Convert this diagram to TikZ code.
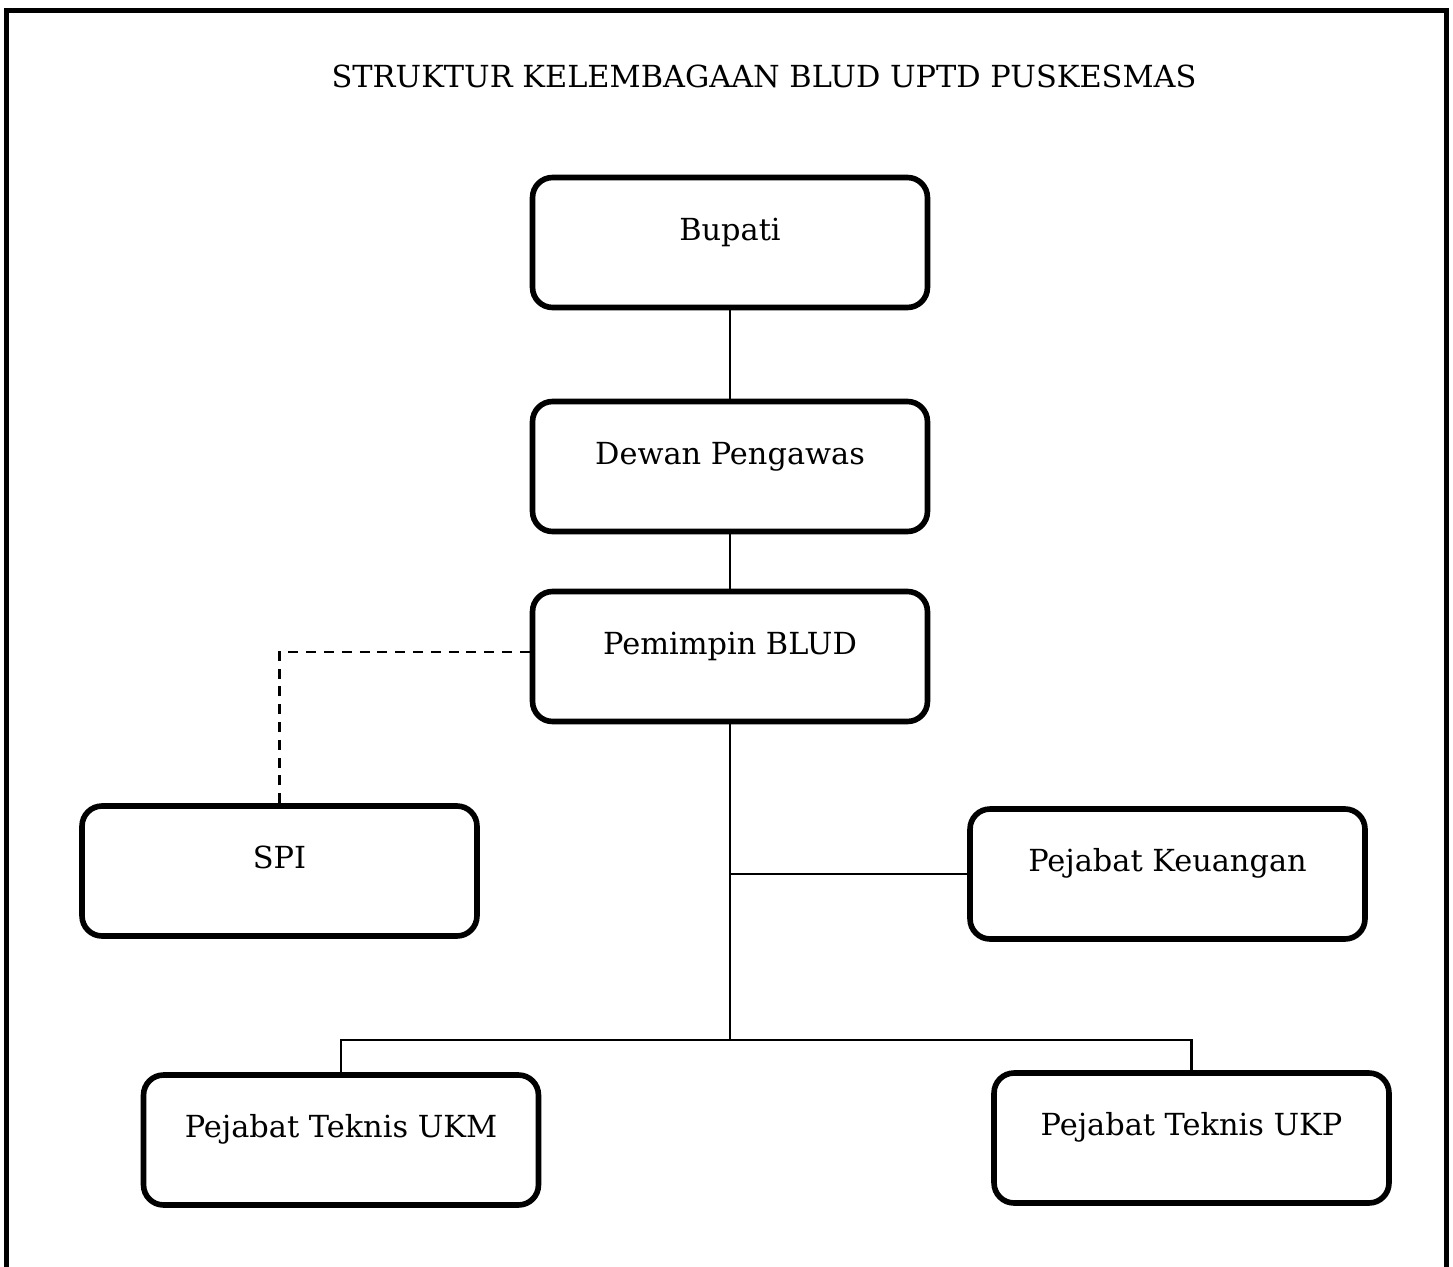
\documentclass[tikz,border=0pt]{standalone}
\usepackage{fontspec}
\setmainfont{DejaVu Serif}
\usetikzlibrary{positioning}

\begin{document}
\begin{tikzpicture}[x=0.02cm, y=-0.02cm,
  every node/.style={font=\fontsize{17.3}{20}\selectfont},
  box/.style={draw, rounded corners=0.4cm, line width=3.2pt, minimum width=7.9cm, minimum height=2.6cm,
    text height=0.45cm, text depth=0.55cm, inner sep=0pt},
  link/.style={line width=1.3pt}]
\useasboundingbox (0,0) rectangle (1453,1267);
% outer frame, open at the bottom
\draw[line width=3.2pt] (6.5,1267) -- (6.5,10.5) -- (1446.5,10.5) -- (1446.5,1267);

\node (title) at (764,76) {STRUKTUR KELEMBAGAAN BLUD UPTD PUSKESMAS};

% boxes
\node[box] (bupati) at (730,242.5) {Bupati};
\node[box] (dewan) at (730,466.5) {Dewan Pengawas};
\node[box] (pemimpin) at (730,656.5) {Pemimpin BLUD};
\node[box] (spi) at (279.5,871) {SPI};
\node[box] (keuangan) at (1167.5,874) {Pejabat Keuangan};
\node[box] (ukm) at (341,1140) {Pejabat Teknis UKM};
\node[box] (ukp) at (1191.5,1138) {Pejabat Teknis UKP};

% connectors
\coordinate (bus) at (0,1040);
\coordinate (spiline) at (0,652);
\draw[link] (bupati) -- (dewan);
\draw[link] (dewan) -- (pemimpin);
\draw[link] (pemimpin.south) -- (pemimpin.south |- bus);
\draw[link] (pemimpin.south |- keuangan.west) -- (keuangan.west);
\draw[link] (ukm.north) -- (ukm.north |- bus) -- (ukp.north |- bus) -- (ukp.north);
\draw[link, line width=1.6pt, dash pattern=on 0.2cm off 0.156cm] (spi.north) |- (pemimpin.west |- spiline);
\end{tikzpicture}
\end{document}
